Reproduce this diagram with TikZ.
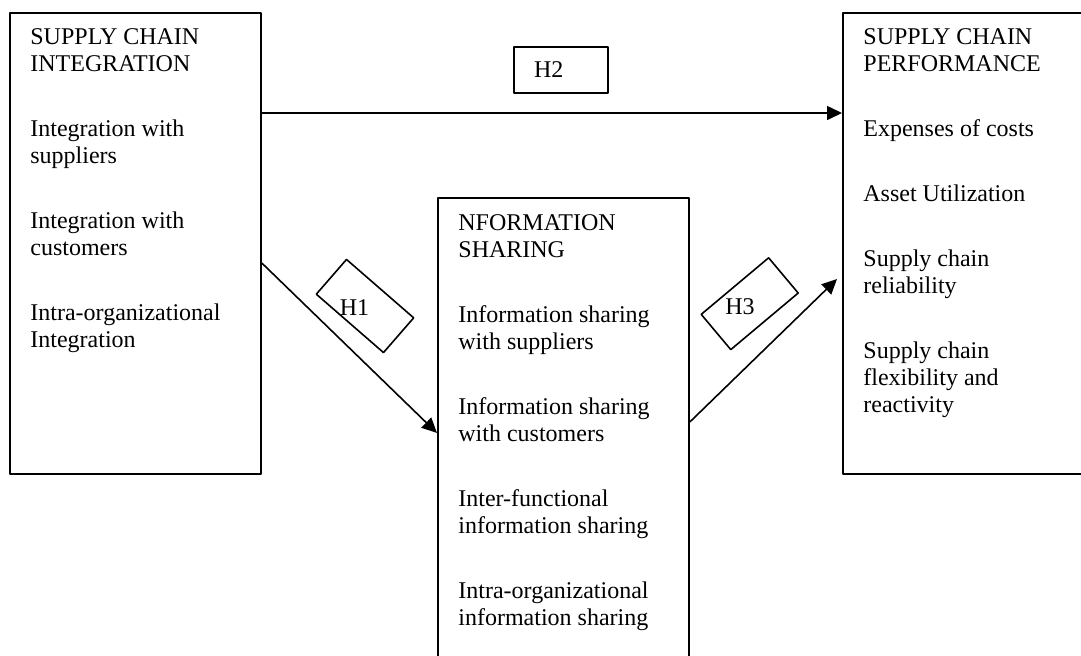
\documentclass[tikz,border=0pt]{standalone}
\usepackage{fontspec}
\setmainfont{Liberation Serif}
\usetikzlibrary{arrows.meta,calc}
\begin{document}
\begin{tikzpicture}[x=0.5pt,y=-0.5pt,>={Triangle[length=7.5pt,width=7pt]},line join=round,font=\fontsize{12}{13.5}\selectfont,
		box/.style={draw,line width=0.9pt,inner sep=0pt,anchor=north west,minimum width=125.5pt},
		txt/.style={inner sep=0pt,anchor=north west,align=left},
		hbox/.style={draw,line width=0.8pt,inner sep=0pt,minimum width=44.5pt,minimum height=23pt},
		link/.style={->,line width=0.8pt}]
	\def\gap{\\[19pt]} % space between items
	\useasboundingbox (0,0) rectangle (1081,655);
	\clip (0,0) rectangle (1081,655);
	% the three blocks
	\node[box,minimum height=230.5pt] (sci) at (9,12) {};
	\node[box,minimum height=240pt] (ins) at (437,197) {};
	\node[box,minimum width=129pt,minimum height=230.5pt] (scp) at (842,12) {};
	% their texts
	\node[txt] (scitxt) at (30,28) {SUPPLY CHAIN\\INTEGRATION\gap Integration with\\suppliers\gap Integration with\\customers\gap Intra-organizational\\Integration};
	\node[txt] (instxt) at (458,214) {NFORMATION\\SHARING\gap Information sharing\\with suppliers\gap Information sharing\\with customers\gap Inter-functional\\information sharing\gap Intra-organizational\\information sharing};
	\node[txt] (scptxt) at (863,28) {SUPPLY CHAIN\\PERFORMANCE\gap Expenses of costs\gap Asset Utilization\gap Supply chain\\reliability\gap Supply chain\\flexibility and\\reactivity};
	% hypotheses
	\node[hbox,minimum width=47pt,text width=27pt,inner xsep=10pt,align=left] (h2) at (561,70) {H2};
	\node[hbox,rotate=-41] (h1box) at (365,306) {};
	\node (h1) at (354.5,308) {H1};
	\node[hbox,rotate=40,minimum width=44pt] (h3box) at (749.7,303.7) {};
	\node (h3) at (740,306.5) {H3};
	% links
	\draw[link] ($(sci.north east)+(0,101)$) -- ($(scp.north west)+(0,101)$);
	\draw[link] ($(sci.north east)+(0,251)$) -- ($(ins.north west)+(0,236)$);
	\draw[link] ($(ins.north east)+(0,225)$) -- ($(scp.north west)+(-5,267)$);
\end{tikzpicture}
\end{document}
